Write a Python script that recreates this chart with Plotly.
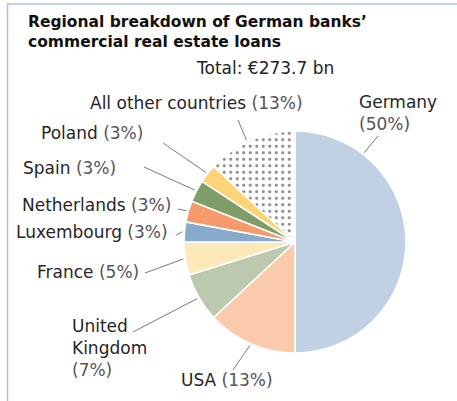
import math
import plotly.graph_objects as go

# ---------------- data ----------------
countries = ["Germany", "USA", "United Kingdom", "France", "Luxembourg",
             "Netherlands", "Spain", "Poland", "All other countries"]
label_names = ["Germany", "USA", "United<br>Kingdom", "France", "Luxembourg",
               "Netherlands", "Spain", "Poland", "All other countries"]
shares = [50.0, 13.1, 7.1, 4.8, 2.9, 3.1, 3.2, 2.7, 13.1]
title_lines = ["Regional breakdown of German banks’", "commercial real estate loans"]
total_text = "Total: €273.7 bn"

# ---------------- styles ----------------
W, H = 457, 401
colors = ["#bfd1e3", "#fbcaac", "#bcc9ae", "#fde8b9", "#87a9ca",
          "#f59a6b", "#7f9d69", "#fdd378", "#ffffff"]
patterns = ["", "", "", "", "", "", "", "", "."]
FONT = "DejaVu Sans"
LABEL_SIZE = 17
TITLE_SIZE = 15.5
NAME_COL = "#262626"
PCT_COL = "#555555"

# pie placement (pixels)
PCX, PCY, PR = 295, 242, 111

# label styling: separator between name and percent, anchor pixel, xanchor
label_sep = ["<br>", " ", "<br>", " ", " ", " ", " ", " ", " "]
label_pos = [(357, 113), (227, 380), (70, 348), (141, 272), (170, 232),
             (173, 205), (118, 168), (145, 133), (196, 103)]
label_xanchor = ["left", "center", "left", "right", "right",
                 "right", "right", "right", "center"]
label_align = ["left", "center", "left", "right", "right",
               "right", "right", "right", "center"]
# leader line: position within slice (fraction) and outer end (pixels)
leader_frac = [0.21, 0.5, 0.5, 0.5, 0.5, 0.5, 0.5, 0.5, 0.46]
leader_end = [(378, 136), (233, 370), (133, 332), (145, 273), (176, 235),
              (178, 209), (144, 167), (163, 143), (238, 120)]


def px(x):
    return x / W


def py(y):
    return 1 - y / H


fig = go.Figure(go.Pie(
    labels=countries,
    values=shares,
    sort=False,
    direction="clockwise",
    rotation=0,
    textinfo="none",
    hoverinfo="label+percent",
    showlegend=False,
    marker=dict(
        colors=colors,
        line=dict(color="#ffffff", width=1.6),
        pattern=dict(shape=patterns, fgcolor="#8a8a8a", bgcolor="#ffffff",
                     size=6.5, solidity=0.18, fillmode="replace"),
    ),
    domain=dict(x=[px(PCX - PR), px(PCX + PR)], y=[py(PCY + PR), py(PCY - PR)]),
))

annotations = []
shapes = []

# title
annotations.append(dict(
    x=px(26), y=py(32), xref="paper", yref="paper", xanchor="left", yanchor="middle",
    text="<b>" + "<br>".join(title_lines) + "</b>", align="left", showarrow=False,
    font=dict(family=FONT, size=TITLE_SIZE, color="#111111"),
))
annotations.append(dict(
    x=px(265), y=py(68), xref="paper", yref="paper", xanchor="center", yanchor="middle",
    text=total_text, showarrow=False,
    font=dict(family=FONT, size=LABEL_SIZE, color="#222222"),
))

total = sum(shares)
cum = 0.0
for i, v in enumerate(shares):
    pct = round(v / total * 100)
    txt = (f"<span style='color:{NAME_COL}'>{label_names[i]}</span>{label_sep[i]}"
           f"<span style='color:{PCT_COL}'>({pct}%)</span>")
    lx, ly = label_pos[i]
    annotations.append(dict(
        x=px(lx), y=py(ly), xref="paper", yref="paper",
        xanchor=label_xanchor[i], yanchor="middle", align=label_align[i],
        text=txt, showarrow=False,
        font=dict(family=FONT, size=LABEL_SIZE, color=NAME_COL),
    ))
    ang = math.radians((cum + leader_frac[i] * v) / total * 360)
    x0 = PCX + (PR + 2) * math.sin(ang)
    y0 = PCY - (PR + 2) * math.cos(ang)
    ex, ey = leader_end[i]
    shapes.append(dict(type="line", xref="paper", yref="paper",
                       x0=px(x0), y0=py(y0), x1=px(ex), y1=py(ey),
                       line=dict(color="#555555", width=0.8)))
    cum += v

# frame
shapes.append(dict(type="line", xref="paper", yref="paper",
                   x0=px(7), y0=py(4), x1=1, y1=py(4),
                   line=dict(color="#a9c1e4", width=1.5)))
shapes.append(dict(type="line", xref="paper", yref="paper",
                   x0=px(7.5), y0=py(4), x1=px(7.5), y1=0,
                   line=dict(color="#a9c1e4", width=1.5)))

fig.update_layout(
    width=W, height=H,
    margin=dict(l=0, r=0, t=0, b=0),
    paper_bgcolor="#ffffff",
    plot_bgcolor="#ffffff",
    annotations=annotations,
    shapes=shapes,
)

fig.write_html("out.html", config={"displayModeBar": False},
               post_script="document.body.style.margin='0';")
